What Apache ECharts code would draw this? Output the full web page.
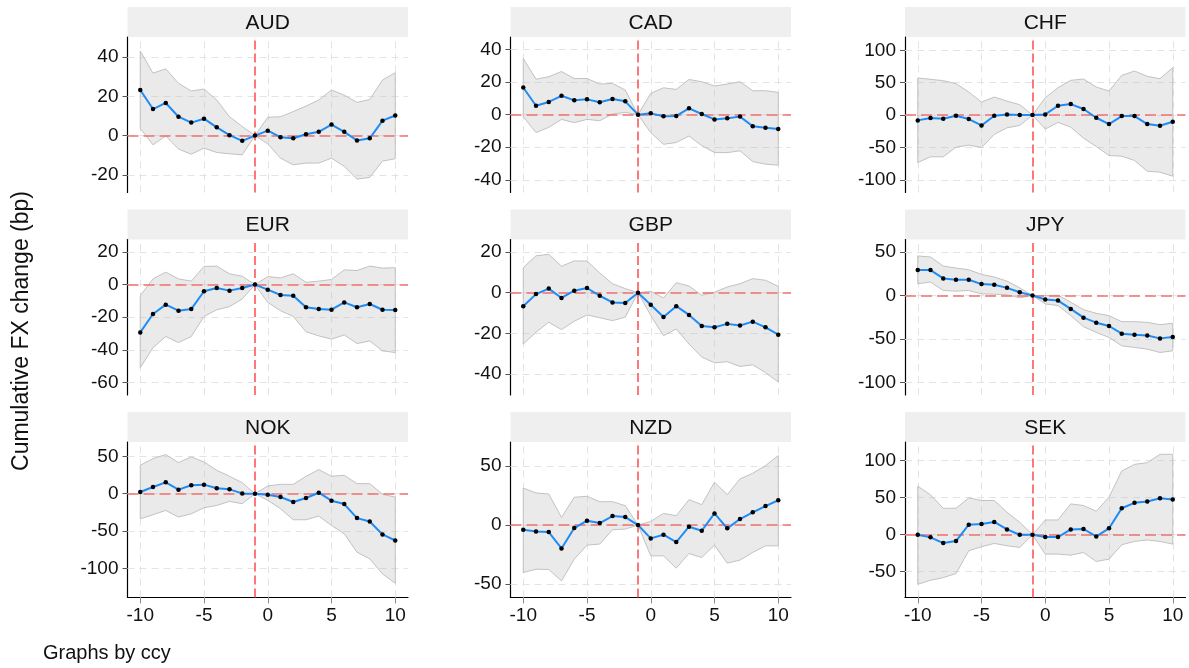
<!DOCTYPE html>
<html>
<head>
<meta charset="utf-8">
<script src="https://cdn.jsdelivr.net/npm/echarts@6/dist/echarts.min.js"></script>
<style>html,body{margin:0;padding:0;background:#fff}#chart{width:1189px;height:668px}</style>
</head>
<body>
<div id="chart"></div>
<script>
// ---------------- DATA ----------------
const periods = [-10,-9,-8,-7,-6,-5,-4,-3,-2,-1,0,1,2,3,4,5,6,7,8,9,10];
const currencies = ['AUD','CAD','CHF','EUR','GBP','JPY','NOK','NZD','SEK'];
const xTicks = [-10,-5,0,5,10];
const eventPeriod = -1;

const audEst   = [23.2,13.5,16.6,9.6,6.6,8.6,4.2,0.2,-2.7,0,2.5,-0.8,-1.4,0.7,1.9,5.6,1.9,-2.5,-1.4,7.6,10.2];
const audUpper = [43.1,31.8,34,26.6,22.7,23.7,18.1,9.6,4.6,0,9.3,9.6,12.2,15,18.1,23.2,20.6,16.9,18.4,28.3,32];
const audLower = [3.7,-4.7,-0.2,-6.9,-9.5,-6.4,-8.6,-9.3,-9.8,0,-4.2,-11.5,-14.9,-14,-14,-11.5,-15.7,-22.2,-21.3,-13,-11.8];

const cadEst   = [16.7,5.5,7.8,11.6,8.8,9.4,7.6,9.6,8.2,0,0.8,-1,-0.8,3.9,0.4,-2.9,-2.2,-1.2,-7.1,-8,-8.8];
const cadUpper = [34.5,21.8,23.3,26.5,22.2,22.2,18.8,19.2,15.1,0,13.1,16.5,15.5,21.6,20.2,17.6,18.8,20.2,14.7,14.7,13.7];
const cadLower = [-1.2,-11,-7.8,-2.9,-4.9,-2.9,-3.7,0.4,1.4,0,-11,-18.2,-17.1,-13.1,-19,-23.3,-23.3,-22.2,-28.8,-30.4,-31];

const chfEst   = [-8.2,-4.6,-5.7,-1,-6.2,-16,-1,1,0,0,1,14.4,17,9.3,-4.1,-13.9,-1.5,-1.5,-13.9,-16.5,-10.3];
const chfUpper = [57.2,55.2,53.1,48.5,35.6,20.1,27.8,21.6,16,0,26.8,42.3,53.6,55.7,43.3,37.1,61.3,68,59.8,56.2,73.2];
const chfLower = [-73.2,-64.4,-64.4,-49.5,-46.4,-50,-29.9,-19.6,-16,0,-21.6,-11.3,-18.6,-35.6,-48.5,-62.4,-63.4,-70.1,-86.6,-88.1,-94.3];

const eurEst   = [-29.3,-18,-12.3,-16,-15,-4.1,-2.1,-3.7,-2.1,0,-3.1,-6.4,-6.8,-13.9,-15,-15.4,-10.9,-13.9,-11.9,-15.4,-15.6];
const eurUpper = [-6.8,3.5,7.6,3.5,2.1,11.1,11.3,6.6,5.1,0,4.9,4.1,6.6,1.4,2.1,3.1,9,8.6,11.3,10.1,10.3];
const eurLower = [-50.9,-38.6,-31.8,-35.5,-31.8,-19.5,-15.4,-13.5,-8.8,0,-10.9,-16,-19.5,-28.9,-31.4,-33.4,-30.8,-36.1,-34.5,-40.6,-41.6];

const gbpEst   = [-6.7,-0.7,2,-2.6,1,2.3,-1.5,-4.8,-5.1,0,-5.9,-11.9,-6.6,-10.9,-16.3,-17,-15.3,-16.1,-14.2,-17,-20.6];
const gbpUpper = [12.3,18.1,18.8,13,15.6,15.5,9.7,4.4,2,0,0.7,-2.6,4.9,3.3,-1.3,0.3,2.8,4.4,6.9,6.1,3.1];
const gbpLower = [-25.2,-19.4,-14.5,-18.1,-14,-10.9,-12.3,-13.7,-12,0,-11.2,-21.1,-17.8,-25.2,-31.6,-34.4,-33.9,-36.2,-35.4,-39.2,-43.8];

const jpyEst   = [29.2,29.2,19.6,18.1,18.1,13.1,12.3,8.8,3.8,0,-4.6,-5.8,-15.4,-25.4,-31.2,-35,-43.8,-45,-45.8,-49.2,-47.7];
const jpyUpper = [45.4,44.2,33.8,31.5,29.6,24.2,21.2,16.5,8.8,0,0,0.4,-7.7,-16.2,-20.4,-23.1,-30,-30,-30.8,-33.5,-31.9];
const jpyLower = [13.5,15.4,5.8,5,5.8,1.9,1.5,0.8,-2.7,0,-9.6,-11.5,-23.1,-35.8,-42.3,-48.1,-57.7,-59.6,-61.5,-65.4,-63.5];

const nokEst   = [2.2,9,15.2,5.4,11.2,12.1,7.2,5.8,0.4,0,-1.3,-4.5,-11.2,-5.8,1.3,-9.4,-13.9,-32.7,-37.2,-54.6,-62.7];
const nokUpper = [38,47,52.4,41.6,49.2,42.5,31.3,23.3,14.8,0,10.3,12.5,12.5,23.3,32.2,23.3,24.6,13.4,13.4,-0.9,-4.5];
const nokLower = [-33.6,-28.2,-22.4,-31.3,-26.9,-18.8,-15.7,-10.3,-13.4,0,-9,-20.1,-34.9,-34.9,-30,-42.5,-53.7,-78.3,-87.3,-107.4,-120];

const nzdEst   = [-4,-5.4,-5.9,-19.8,-2.5,3.7,1.7,7.6,6.8,0,-11.3,-8.2,-14.4,-1.4,-4.8,9.9,-2.8,5.1,10.8,16.1,21];
const nzdUpper = [31.4,27.2,26.3,6.5,23.5,24.4,19.8,19.8,16.4,0,3.1,9.9,7.9,21.5,17.3,36.3,25.8,39.1,43.9,50.4,58.9];
const nzdLower = [-40.2,-37.4,-37.7,-47.3,-28.9,-17,-16.1,-4,-3.4,0,-26.1,-26.1,-36.5,-24.1,-27.5,-17,-32.3,-29.7,-23.2,-17.6,-17.6];

const sekEst   = [0,-3.6,-11.3,-8.6,13.6,14.5,17.2,7.2,0,0,-3.2,-3.2,7.2,7.7,-2.3,8.6,35.7,43,44.8,49.3,47.5];
const sekUpper = [65.6,53.8,35.7,35.7,49.8,46.2,46.2,30.3,16.7,0,19.9,19.9,41.6,39.4,31.7,50.7,86,95,97.3,108.6,108.6];
const sekLower = [-67,-61.5,-57.9,-52.5,-21.7,-16.3,-11.8,-14.9,-17.2,0,-26.2,-26.2,-27.6,-24,-36.2,-33,-13.6,-9,-7.2,-9,-12.7];

// y-axis tick labels per panel
const audTicks = [-20,0,20,40];
const cadTicks = [-40,-20,0,20,40];
const chfTicks = [-100,-50,0,50,100];
const eurTicks = [-60,-40,-20,0,20];
const gbpTicks = [-40,-20,0,20];
const jpyTicks = [-100,-50,0,50];
const nokTicks = [-100,-50,0,50];
const nzdTicks = [-50,0,50];
const sekTicks = [-50,0,50,100];

// y-axis ranges per panel
const audRange = [-29, 50.2];
const cadRange = [-47.8, 47.7];
const chfRange = [-119.5, 120.5];
const eurRange = [-67.6, 27.6];
const gbpRange = [-50.2, 26.1];
const jpyRange = [-114.2, 64.3];
const nokRange = [-139, 69.2];
const nzdRange = [-61.4, 70.4];
const sekRange = [-84.8, 125.2];

const panels = [
  {est: audEst, up: audUpper, lo: audLower, ticks: audTicks, range: audRange},
  {est: cadEst, up: cadUpper, lo: cadLower, ticks: cadTicks, range: cadRange},
  {est: chfEst, up: chfUpper, lo: chfLower, ticks: chfTicks, range: chfRange},
  {est: eurEst, up: eurUpper, lo: eurLower, ticks: eurTicks, range: eurRange},
  {est: gbpEst, up: gbpUpper, lo: gbpLower, ticks: gbpTicks, range: gbpRange},
  {est: jpyEst, up: jpyUpper, lo: jpyLower, ticks: jpyTicks, range: jpyRange},
  {est: nokEst, up: nokUpper, lo: nokLower, ticks: nokTicks, range: nokRange},
  {est: nzdEst, up: nzdUpper, lo: nzdLower, ticks: nzdTicks, range: nzdRange},
  {est: sekEst, up: sekUpper, lo: sekLower, ticks: sekTicks, range: sekRange}
];

// ---------------- LAYOUT ----------------
const FONT = '"Liberation Sans", Arial, Helvetica, sans-serif';
const colLeft = [127.5, 510.5, 905];
const rowTop = [37, 239.5, 442];
const plotW = 280.5;
const plotH = 155.5;
const stripH = 30;

const grids = [], xAxes = [], yAxes = [], series = [], graphics = [];

panels.forEach((p, k) => {
  const r = Math.floor(k / 3), c = k % 3;
  const bottom = r === 2;
  grids.push({left: colLeft[c], top: rowTop[r], width: plotW, height: plotH, containLabel: false, outerBoundsMode: 'none'});
  xAxes.push({
    gridIndex: k, type: 'value', min: -11, max: 11,
    splitLine: {show: false},
    axisLine: {show: bottom, onZero: false, lineStyle: {color: '#000', width: 1.2}},
    axisTick: {show: bottom, customValues: xTicks, length: 6, lineStyle: {color: '#8c8c8c', width: 1}},
    axisLabel: {show: bottom, customValues: xTicks, fontSize: 19, color: '#111', margin: 9, fontFamily: FONT}
  });
  yAxes.push({
    gridIndex: k, type: 'value', min: p.range[0], max: p.range[1],
    splitLine: {show: false},
    axisLine: {show: true, onZero: false, lineStyle: {color: '#000', width: 1.2}},
    axisTick: {show: true, customValues: p.ticks, length: 5, lineStyle: {color: '#555', width: 1}},
    axisLabel: {customValues: p.ticks, fontSize: 19, color: '#111', margin: 9, fontFamily: FONT}
  });

  const gridLineData = xTicks.map(v => ({xAxis: v})).concat(p.ticks.map(v => ({yAxis: v})));

  series.push({
    type: 'custom', xAxisIndex: k, yAxisIndex: k, z: 2, silent: true,
    data: periods.map((t, i) => [t, p.lo[i], p.up[i]]),
    encode: {x: 0, y: [1, 2]},
    renderItem: function (params, api) {
      if (params.dataIndex !== 0) return null;
      const pts = [];
      for (let i = 0; i < periods.length; i++) pts.push(api.coord([periods[i], p.up[i]]));
      for (let i = periods.length - 1; i >= 0; i--) pts.push(api.coord([periods[i], p.lo[i]]));
      return {
        type: 'polygon',
        shape: {points: pts},
        style: {fill: 'rgba(190,190,190,0.33)', stroke: '#c2c2c2', lineWidth: 1}
      };
    },
    markLine: {
      z: 1, silent: true, symbol: ['none', 'none'], animation: false,
      label: {show: false},
      lineStyle: {color: '#e3e3e3', width: 1, type: [7, 5]},
      emphasis: {disabled: true},
      data: gridLineData
    }
  });

  series.push({
    type: 'line', xAxisIndex: k, yAxisIndex: k, z: 4, silent: true,
    data: periods.map((t, i) => [t, p.est[i]]),
    symbol: 'circle', symbolSize: 4.5, showSymbol: true, showAllSymbol: true,
    itemStyle: {color: '#000'},
    lineStyle: {color: '#1f8cf5', width: 2},
    emphasis: {disabled: true},
    markLine: {
      z: 3, silent: true, symbol: ['none', 'none'], animation: false,
      label: {show: false},
      emphasis: {disabled: true},
      data: [
        {yAxis: 0, lineStyle: {color: '#f07272', width: 1.5, type: [11, 5]}},
        {xAxis: eventPeriod, lineStyle: {color: '#ff5555', width: 1.6, type: [9, 4]}}
      ]
    }
  });

  graphics.push({
    type: 'rect', silent: true, z: 0,
    shape: {x: colLeft[c], y: rowTop[r] - stripH, width: plotW, height: stripH},
    style: {fill: '#efefef'}
  });
  graphics.push({
    type: 'text', silent: true, z: 1,
    x: colLeft[c] + plotW / 2, y: rowTop[r] - stripH / 2 + 1,
    style: {text: currencies[k], fill: '#111', font: '21px ' + FONT,
            textAlign: 'center', textVerticalAlign: 'middle', align: 'center', verticalAlign: 'middle'}
  });
});

graphics.push({
  type: 'text', silent: true,
  x: 22, y: 331, rotation: Math.PI / 2,
  style: {text: 'Cumulative FX change (bp)', fill: '#111', font: '23px ' + FONT,
          textAlign: 'center', textVerticalAlign: 'middle', align: 'center', verticalAlign: 'middle'}
});
graphics.push({
  type: 'text', silent: true,
  x: 43, y: 653,
  style: {text: 'Graphs by ccy', fill: '#111', font: '20px ' + FONT,
          textAlign: 'left', textVerticalAlign: 'middle', align: 'left', verticalAlign: 'middle'}
});

const chart = echarts.init(document.getElementById('chart'), null, {renderer: 'canvas'});
chart.setOption({
  animation: false,
  backgroundColor: '#ffffff',
  grid: grids,
  xAxis: xAxes,
  yAxis: yAxes,
  series: series,
  graphic: {elements: graphics}
});
</script>
</body>
</html>
